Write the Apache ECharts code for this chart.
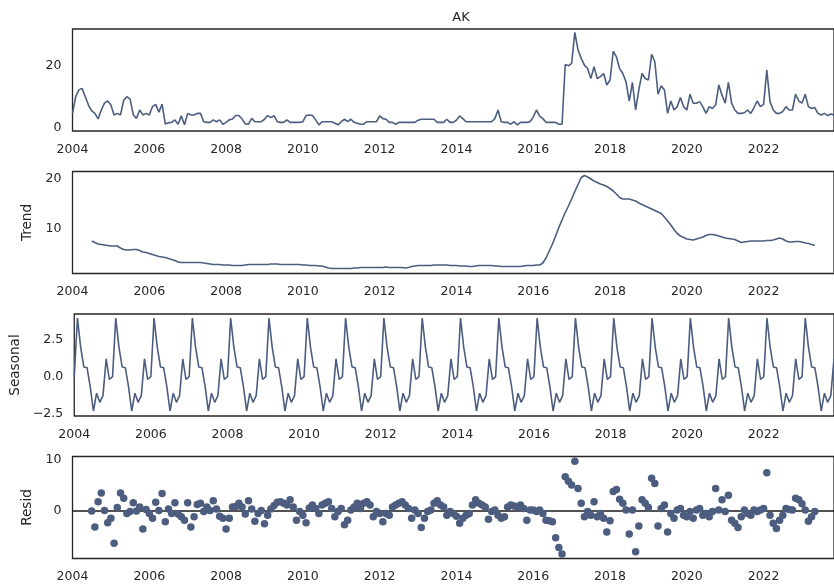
<!DOCTYPE html>
<html><head><meta charset="utf-8">
<script src="https://cdn.jsdelivr.net/npm/echarts@6/dist/echarts.min.js"></script>
<style>html,body{margin:0;padding:0;background:#fff}#c{width:834px;height:584px}</style>
</head><body><div id="c"></div><script>
// Monthly series, Jan 2004 .. Nov 2023
const startYear = 2004;
const chartTitle = 'AK';
const panelNames = ['', 'Trend', 'Seasonal', 'Resid'];
const xTickLabels = ['2004','2006','2008','2010','2012','2014','2016','2018','2020','2022'];
const observedTicks = [0, 20];
const trendTicks = [10, 20];
const seasonalTicks = [-2.5, 0, 2.5];
const residTicks = [0, 10];

const observed = [
 4.7,10.1,12.3,12.8,10.1,7.4,5.5,4.7,2.9,5.8,8.0,8.7,
 7.4,4.2,4.7,4.2,9.0,10.1,9.3,4.2,3.1,5.8,4.2,4.7,
 4.2,6.9,7.6,5.1,7.7,1.3,1.7,1.8,2.6,1.2,3.9,1.0,
 4.7,4.2,4.2,4.7,4.7,2.0,1.8,1.8,2.6,2.0,2.6,1.2,
 1.8,2.6,2.9,4.0,4.0,2.9,1.3,1.2,3.1,2.0,2.0,2.0,
 2.8,4.0,3.3,4.0,2.0,1.8,1.8,2.6,1.8,1.8,1.8,1.8,
 2.0,4.0,4.2,4.0,2.6,1.0,2.0,2.0,2.0,2.0,1.5,1.0,
 2.0,2.8,2.0,2.8,1.8,1.5,1.2,1.2,2.0,2.0,2.0,2.0,
 3.9,3.0,2.8,1.8,1.8,1.2,1.8,1.8,1.8,1.8,1.8,1.8,
 2.5,2.8,2.8,2.8,2.8,2.8,1.8,1.8,1.8,2.8,1.8,1.8,
 2.5,3.9,3.0,2.0,2.0,2.0,2.0,2.0,2.0,2.0,2.0,2.0,
 3.0,5.8,2.0,1.8,1.8,1.2,2.0,1.0,1.8,1.8,1.8,2.0,
 3.5,5.8,3.8,3.0,1.8,1.8,1.8,1.8,1.2,1.2,20.5,20.1,
 20.9,30.9,25.2,22.5,20.3,19.2,16.0,19.8,16.0,16.6,17.6,13.9,
 15.5,24.8,23.0,19.2,17.6,14.9,8.7,14.7,5.8,12.3,17.6,16.0,
 15.5,23.8,21.4,10.9,13.6,12.3,4.7,8.7,5.8,6.9,9.8,6.9,
 5.8,10.9,8.0,8.0,8.5,6.9,4.7,6.9,6.3,7.4,13.9,10.6,
 8.0,14.7,8.0,5.8,4.7,4.7,4.9,5.8,4.7,6.6,8.7,6.9,
 7.6,18.7,8.5,5.8,4.7,4.7,5.3,6.9,5.8,5.8,10.9,8.7,
 8.0,10.9,6.9,6.3,6.6,4.7,4.2,4.7,4.0,4.5,4.2
];

const trend = [
 null,null,null,null,null,null,7.6,7.3,7.0,6.9,6.8,6.7,
 6.6,6.6,6.6,6.2,5.9,5.8,5.8,5.9,5.9,5.7,5.4,5.3,
 5.1,4.9,4.7,4.5,4.4,4.3,4.1,3.9,3.7,3.4,3.3,3.3,
 3.3,3.3,3.3,3.3,3.3,3.2,3.1,3.0,2.9,2.9,2.9,2.8,
 2.8,2.8,2.7,2.7,2.7,2.7,2.8,2.9,2.9,2.9,2.9,2.9,
 2.9,2.9,3.0,3.0,3.0,2.9,2.9,2.9,2.9,2.9,2.9,2.9,
 2.8,2.8,2.7,2.7,2.7,2.6,2.6,2.4,2.2,2.1,2.1,2.1,
 2.1,2.1,2.1,2.1,2.2,2.2,2.3,2.3,2.3,2.3,2.3,2.3,
 2.3,2.3,2.4,2.3,2.3,2.3,2.3,2.3,2.2,2.3,2.5,2.6,
 2.7,2.7,2.7,2.7,2.7,2.8,2.8,2.8,2.8,2.8,2.7,2.7,
 2.7,2.6,2.6,2.6,2.5,2.5,2.6,2.7,2.7,2.7,2.7,2.7,
 2.6,2.6,2.5,2.5,2.5,2.5,2.5,2.5,2.5,2.6,2.7,2.7,
 2.7,2.8,2.8,3.2,4.2,5.6,7.0,8.6,10.3,11.8,13.3,14.6,
 16.0,17.5,18.9,20.3,20.7,20.4,20.0,19.6,19.3,19.0,18.8,18.5,
 18.1,17.6,17.0,16.3,16.0,16.0,16.0,15.8,15.6,15.2,14.9,14.6,
 14.3,14.0,13.7,13.4,13.1,12.4,11.6,10.8,9.9,9.1,8.6,8.3,
 8.0,7.9,7.8,8.0,8.2,8.4,8.7,8.9,8.9,8.8,8.6,8.4,
 8.2,8.1,8.0,7.9,7.6,7.3,7.4,7.5,7.6,7.6,7.6,7.6,
 7.6,7.7,7.7,7.8,8.0,8.2,8.0,7.6,7.4,7.4,7.5,7.5,
 7.4,7.2,7.1,6.9,6.7,null,null,null,null,null,null
];

const seasonal = [
 0.0,3.98,2.0,0.65,0.6,-0.68,-2.34,-1.13,-1.75,-1.3,1.2,-0.2,
 0.0,3.98,2.0,0.65,0.6,-0.68,-2.34,-1.13,-1.75,-1.3,1.2,-0.2,
 0.0,3.98,2.0,0.65,0.6,-0.68,-2.34,-1.13,-1.75,-1.3,1.2,-0.2,
 0.0,3.98,2.0,0.65,0.6,-0.68,-2.34,-1.13,-1.75,-1.3,1.2,-0.2,
 0.0,3.98,2.0,0.65,0.6,-0.68,-2.34,-1.13,-1.75,-1.3,1.2,-0.2,
 0.0,3.98,2.0,0.65,0.6,-0.68,-2.34,-1.13,-1.75,-1.3,1.2,-0.2,
 0.0,3.98,2.0,0.65,0.6,-0.68,-2.34,-1.13,-1.75,-1.3,1.2,-0.2,
 0.0,3.98,2.0,0.65,0.6,-0.68,-2.34,-1.13,-1.75,-1.3,1.2,-0.2,
 0.0,3.98,2.0,0.65,0.6,-0.68,-2.34,-1.13,-1.75,-1.3,1.2,-0.2,
 0.0,3.98,2.0,0.65,0.6,-0.68,-2.34,-1.13,-1.75,-1.3,1.2,-0.2,
 0.0,3.98,2.0,0.65,0.6,-0.68,-2.34,-1.13,-1.75,-1.3,1.2,-0.2,
 0.0,3.98,2.0,0.65,0.6,-0.68,-2.34,-1.13,-1.75,-1.3,1.2,-0.2,
 0.0,3.98,2.0,0.65,0.6,-0.68,-2.34,-1.13,-1.75,-1.3,1.2,-0.2,
 0.0,3.98,2.0,0.65,0.6,-0.68,-2.34,-1.13,-1.75,-1.3,1.2,-0.2,
 0.0,3.98,2.0,0.65,0.6,-0.68,-2.34,-1.13,-1.75,-1.3,1.2,-0.2,
 0.0,3.98,2.0,0.65,0.6,-0.68,-2.34,-1.13,-1.75,-1.3,1.2,-0.2,
 0.0,3.98,2.0,0.65,0.6,-0.68,-2.34,-1.13,-1.75,-1.3,1.2,-0.2,
 0.0,3.98,2.0,0.65,0.6,-0.68,-2.34,-1.13,-1.75,-1.3,1.2,-0.2,
 0.0,3.98,2.0,0.65,0.6,-0.68,-2.34,-1.13,-1.75,-1.3,1.2,-0.2,
 0.0,3.98,2.0,0.65,0.6,-0.68,-2.34,-1.13,-1.75,-1.3,1.2
];

const resid = [
 null,null,null,null,null,null,0.0,-3.1,1.8,3.5,0.1,-2.3,
 -1.4,-6.3,0.7,3.5,2.5,-0.5,-0.1,1.6,0.0,0.8,-3.5,0.3,
 -0.5,-1.4,1.7,0.1,3.4,-2.1,0.4,-0.5,1.6,-0.6,-1.1,-1.8,
 1.6,-3.1,-1.1,1.3,1.5,-0.1,0.8,0.1,2.0,0.4,-1.0,-1.4,
 -3.5,-1.4,0.8,0.9,1.5,0.8,-0.6,2.0,0.4,-2.0,-0.5,0.1,
 -2.5,-0.8,0.4,1.1,1.7,1.8,1.5,1.2,2.2,0.8,-1.8,-0.1,
 -0.8,-2.3,0.6,1.2,0.5,-0.5,1.2,1.5,1.8,0.5,-1.1,-0.1,
 0.5,-2.7,-1.8,0.2,0.8,1.5,0.5,1.5,1.8,1.2,-1.1,-0.1,
 -0.5,-2.1,-0.5,-0.8,0.8,1.2,1.5,1.8,1.2,0.5,-1.4,0.2,
 -0.5,-3.2,-1.4,-0.1,0.2,1.5,2.0,1.2,0.8,-0.8,-0.1,-0.5,
 -1.0,-2.4,-1.4,-0.8,-0.5,1.2,2.2,1.5,1.2,0.8,-1.6,-0.1,
 0.2,-0.8,-1.4,-1.1,0.8,1.2,1.0,0.8,1.2,0.5,-1.8,0.2,
 0.2,-0.1,0.2,-0.5,-1.8,-1.9,-2.1,-5.2,-7.1,-8.4,6.7,5.8,
 5.1,9.7,4.4,1.5,-1.1,-0.1,-0.8,1.8,-1.1,-0.5,-1.4,-4.1,
 -1.9,3.8,4.2,2.3,1.5,0.2,-4.5,0.2,-7.96,-2.9,2.2,1.5,
 0.7,6.4,5.4,-2.9,0.5,1.2,-4.1,-0.5,-1.4,0.2,0.5,-0.8,
 -1.1,-0.1,-1.4,0.2,0.5,-0.8,-0.5,-1.1,-0.1,4.4,0.2,2.2,
 -0.1,3.1,-1.8,-2.4,-3.2,-1.1,0.2,-0.5,-0.8,0.2,-0.1,0.2,
 0.5,7.5,-0.8,-2.4,-3.4,-1.8,-0.8,0.5,0.3,0.2,2.5,2.2,
 1.4,0.2,-2.0,-1.1,-0.1,null,null,null,null,null,null
];

const xMin = startYear;
const xMax = startYear + (observed.length - 1) / 12;
const toPairs = arr => arr.map((v, i) => [startYear + i / 12, v]).filter(p => p[1] !== null);

const lineColor = '#4c5d80';
const textColor = '#262626';
const frameColor = '#262626';
const tops = [29, 171.5, 314, 456.5];
const H = 102;
const LEFT = 72.5;
const RIGHT = 834 - 839.2;

const yCfg = [
  {min: -1, max: 32, ticks: observedTicks, fmt: v => String(v), gap: 40},
  {min: 1.1, max: 21.5, ticks: trendTicks, fmt: v => String(v), gap: 34},
  {min: -2.68, max: 4.25, ticks: seasonalTicks, fmt: v => (v < 0 ? '\u2212' : '') + Math.abs(v).toFixed(1), gap: 49},
  {min: -9.27, max: 10.65, ticks: residTicks, fmt: v => String(v), gap: 31}
];

const chart = echarts.init(document.getElementById('c'), null, {renderer: 'canvas'});
const option = {
  animation: false,
  backgroundColor: '#ffffff',
  title: {
    text: chartTitle, left: 456, top: 6, textAlign: 'center',
    textStyle: {fontFamily: 'DejaVu Sans', fontSize: 13, fontWeight: 'normal', color: textColor}
  },
  grid: tops.map(t => ({
    left: LEFT, right: RIGHT, top: t, height: H, show: true,
    borderColor: frameColor, borderWidth: 1.3, backgroundColor: 'transparent', containLabel: false
  })),
  xAxis: tops.map((t, k) => ({
    type: 'value', gridIndex: k, min: xMin, max: xMax, interval: 2,
    axisLine: {show: false}, axisTick: {show: false}, splitLine: {show: false},
    axisLabel: {
      color: textColor, fontFamily: 'DejaVu Sans', fontSize: 12.5, margin: 12,
      showMaxLabel: false,
      formatter: v => xTickLabels.includes(String(Math.round(v))) ? String(Math.round(v)) : ''
    }
  })),
  yAxis: yCfg.map((c, k) => ({
    type: 'value', gridIndex: k, min: c.min, max: c.max,
    name: panelNames[k], nameLocation: 'middle', nameGap: c.gap,
    nameTextStyle: {color: textColor, fontFamily: 'DejaVu Sans', fontSize: 13.6},
    axisLine: {show: false}, axisTick: {show: false}, splitLine: {show: false},
    axisLabel: {
      color: textColor, fontFamily: 'DejaVu Sans', fontSize: 12.5, margin: 11,
      customValues: c.ticks, formatter: c.fmt
    }
  })),
  series: [
    {type: 'line', xAxisIndex: 0, yAxisIndex: 0, data: toPairs(observed), showSymbol: false,
     lineStyle: {color: lineColor, width: 1.6}, silent: true},
    {type: 'line', xAxisIndex: 1, yAxisIndex: 1, data: toPairs(trend), showSymbol: false,
     lineStyle: {color: lineColor, width: 1.6}, silent: true},
    {type: 'line', xAxisIndex: 2, yAxisIndex: 2, data: toPairs(seasonal), showSymbol: false,
     lineStyle: {color: lineColor, width: 1.6}, silent: true},
    {type: 'line', xAxisIndex: 3, yAxisIndex: 3, data: [[xMin, 0], [xMax, 0]], showSymbol: false,
     lineStyle: {color: '#1a1a1a', width: 1.4}, silent: true, z: 1},
    {type: 'scatter', xAxisIndex: 3, yAxisIndex: 3, data: toPairs(resid), symbolSize: 7.5,
     itemStyle: {color: lineColor, opacity: 1}, silent: true, z: 3}
  ]
};
chart.setOption(option);
</script></body></html>
